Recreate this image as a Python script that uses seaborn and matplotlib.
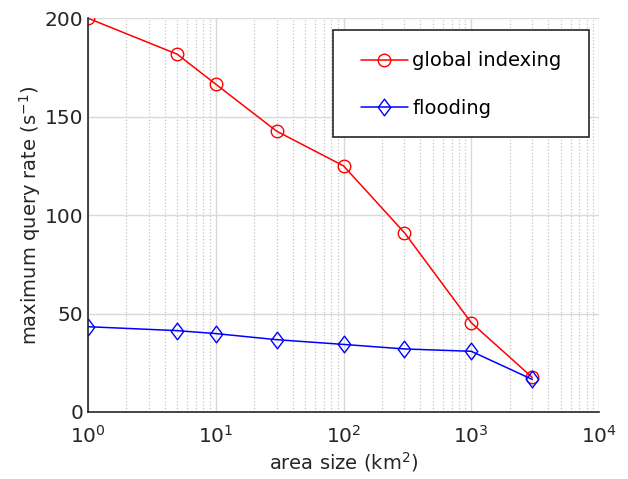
import matplotlib
matplotlib.use("Agg")
import matplotlib.pyplot as plt
import seaborn as sns
import pandas as pd
import numpy as np
from matplotlib.ticker import LogLocator, NullFormatter
from matplotlib.path import Path
from matplotlib.patches import Rectangle

area = [1, 5, 10, 30, 100, 300, 1000, 3000]
global_indexing = [200, 181.7, 166.5, 142.6, 125, 91, 45.3, 17.5]
flooding = [43.3, 41.3, 39.8, 36.7, 34.3, 32, 30.8, 16.5]
series_names = ["global indexing", "flooding"]

df = pd.DataFrame({
    "area": area * 2,
    "rate": global_indexing + flooding,
    "series": [series_names[0]] * len(area) + [series_names[1]] * len(area),
})

sns.set_theme(style="white")
plt.rcParams['font.family'] = ['DejaVu Sans']

diamond = Path([(0, 1), (0.75, 0), (0, -1), (-0.75, 0), (0, 1)],
               [Path.MOVETO, Path.LINETO, Path.LINETO, Path.LINETO, Path.CLOSEPOLY])

fig = plt.figure(figsize=(6.28, 4.79), dpi=100)
ax = fig.add_axes([0.140, 0.140, 0.814, 0.822])

sns.lineplot(data=df, x="area", y="rate", hue="series", style="series",
             palette={series_names[0]: "#ff0000", series_names[1]: "#0000ff"},
             markers={series_names[0]: "o", series_names[1]: diamond},
             dashes=False, markersize=9, markerfacecolor="none",
             markeredgewidth=1.0, linewidth=1.1, ax=ax, legend=True)

for line in ax.lines:
    line.set_markerfacecolor("none")
    line.set_markeredgecolor(line.get_color())
    if isinstance(line.get_marker(), Path):
        line.set_markersize(12)

ax.set_xscale("log")
ax.set_xlim(1, 1e4)
ax.set_ylim(0, 200)
ax.set_yticks([0, 50, 100, 150, 200])
ax.xaxis.set_major_locator(LogLocator(base=10, numticks=10))
ax.xaxis.set_minor_locator(LogLocator(base=10, subs=np.arange(2, 10), numticks=20))
ax.xaxis.set_minor_formatter(NullFormatter())

ax.grid(True, which="major", axis="both", color="#d9d9d9", linestyle="-", linewidth=1.0)
ax.grid(True, which="minor", axis="x", color="#c4c4c4", linestyle=":", linewidth=0.9)
ax.set_axisbelow(True)

for s in ["top", "right"]:
    ax.spines[s].set_visible(False)
for s in ["left", "bottom"]:
    ax.spines[s].set_color("#262626")
    ax.spines[s].set_linewidth(1.2)

ax.tick_params(axis="both", which="major", direction="in", length=5, width=1,
               colors="#262626", labelsize=14.5, labelcolor="#262626")
ax.tick_params(axis="x", which="minor", direction="in", length=3, width=0.8, colors="#262626")
ax.tick_params(axis="x", which="major", pad=9)

ax.set_xlabel("area size (km$^2$)", fontsize=14, color="#262626", labelpad=3)
ax.set_ylabel("maximum query rate (s$^{-1}$)", fontsize=14, color="#262626", labelpad=1)

# legend frame drawn as a box in axes coordinates
frame = Rectangle((0.4795, 0.698), 0.501, 0.2715, transform=ax.transAxes,
                  facecolor="white", edgecolor="#262626", linewidth=1.2,
                  zorder=4, clip_on=False)
ax.add_patch(frame)

leg = ax.legend(loc="upper left", bbox_to_anchor=(0.534, 0.9155), fontsize=14,
                frameon=False, borderpad=0, labelspacing=1.45, handlelength=2.42,
                handletextpad=0.22, borderaxespad=0)
leg.set_zorder(5)
for h in leg.legend_handles:
    h.set_markerfacecolor("none")
for t in leg.get_texts():
    t.set_color("black")

fig.savefig("out.png", dpi=100)
